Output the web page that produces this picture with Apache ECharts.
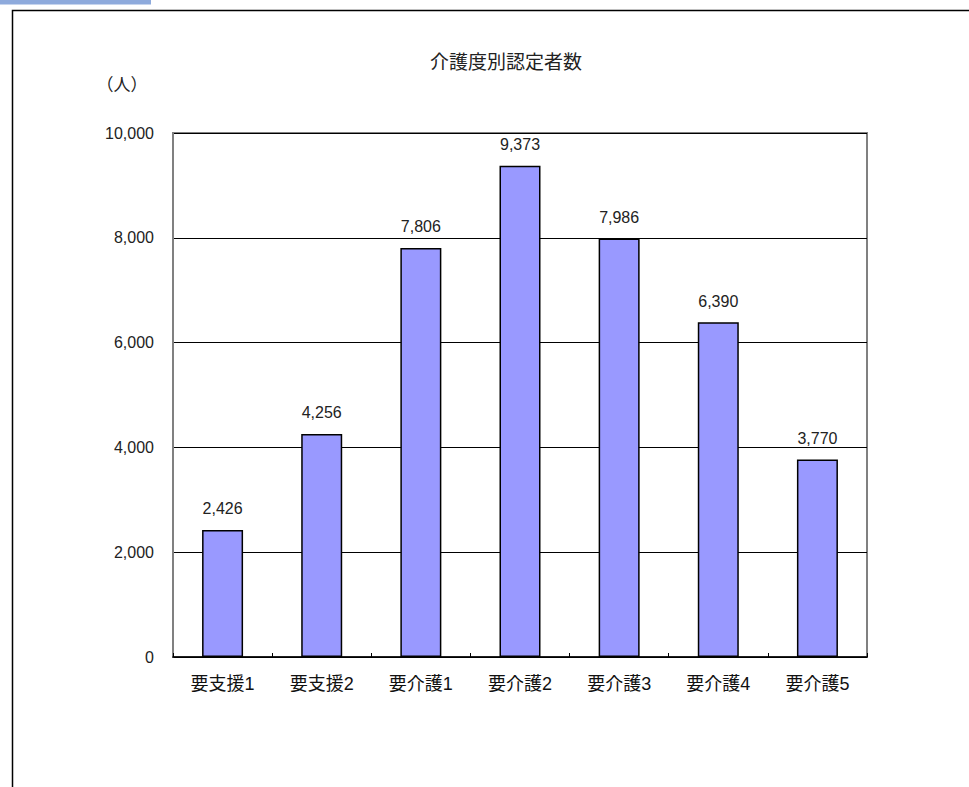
<!DOCTYPE html>
<html>
<head>
<meta charset="utf-8">
<script src="https://cdn.jsdelivr.net/npm/echarts@6/dist/echarts.min.js"></script>
<style>
html,body{margin:0;padding:0;background:#fff;}
#c{width:969px;height:787px;}
</style>
</head>
<body>
<div id="c"></div>
<script>
const categories = ['要支援1','要支援2','要介護1','要介護2','要介護3','要介護4','要介護5'];
const values = [2426, 4256, 7806, 9373, 7986, 6390, 3770];
const yTicks = [0, 2000, 4000, 6000, 8000, 10000];
const titleText = '介護度別認定者数';
const unitText = '（人）';

const FONT = '"Liberation Sans", "Noto Sans CJK JP", sans-serif';
const chart = echarts.init(document.getElementById('c'), null, {renderer: 'svg'});
chart.setOption({
  animation: false,
  backgroundColor: '#fff',
  graphic: [
    {type: 'rect', shape: {x: 0, y: 0, width: 151, height: 4.5}, style: {fill: '#8eaadc'}, silent: true},
    {type: 'rect', shape: {x: 12.5, y: 10.5, width: 1000, height: 1000}, style: {fill: 'none', stroke: '#000', lineWidth: 1.5}, silent: true, z: -10},
    {type: 'text', x: 506, y: 62, style: {text: titleText, font: '19px ' + FONT, fill: '#222', textAlign: 'center', textVerticalAlign: 'middle'}},
    {type: 'text', x: 122, y: 85, style: {text: unitText, font: '17px ' + FONT, fill: '#222', textAlign: 'center', textVerticalAlign: 'middle'}}
  ],
  grid: {left: 173, right: 102, top: 133, bottom: 130, show: true, borderColor: '#808080', borderWidth: 2, backgroundColor: 'transparent'},
  xAxis: {
    type: 'category',
    data: categories,
    axisLine: {lineStyle: {color: '#000', width: 1.5}},
    axisTick: {show: true, inside: true, length: 4, lineStyle: {color: '#000'}},
    axisLabel: {color: '#111', fontSize: 18, fontFamily: FONT, margin: 18}
  },
  yAxis: {
    type: 'value',
    min: yTicks[0],
    max: yTicks[yTicks.length - 1],
    interval: 2000,
    axisLine: {show: true, lineStyle: {color: '#808080', width: 2}},
    axisTick: {show: false},
    splitLine: {show: true, lineStyle: {color: '#000', width: 1}},
    axisLabel: {color: '#222', fontSize: 16, fontFamily: FONT, margin: 19,
      formatter: v => v.toLocaleString('en-US')}
  },
  series: [{
    type: 'bar',
    data: values,
    barWidth: 41,
    itemStyle: {color: '#9999ff', borderColor: '#000', borderWidth: 1.5},
    label: {show: true, position: 'top', distance: 13, color: '#222', fontSize: 16, fontFamily: FONT,
      formatter: p => p.value.toLocaleString('en-US')}
  }]
});
</script>
</body>
</html>
